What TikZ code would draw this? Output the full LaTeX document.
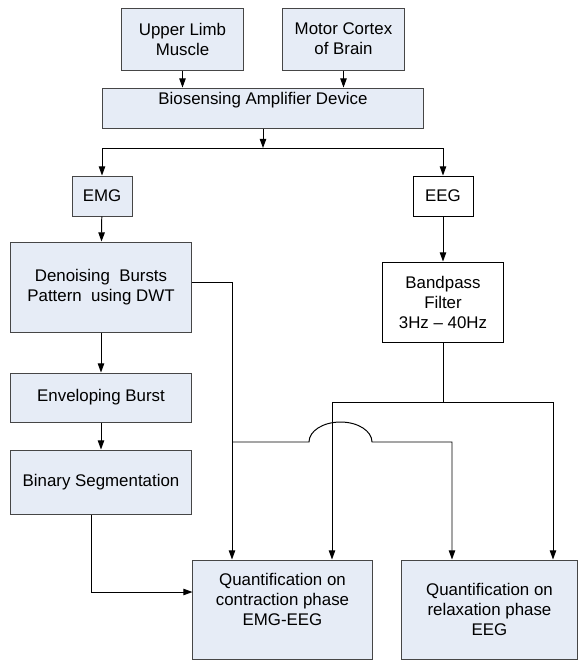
\documentclass[tikz,border=0pt]{standalone}
\usepackage{fontspec}
\setmainfont{Liberation Sans}
\usepackage{tikz}
\usetikzlibrary{calc}
\usetikzlibrary{arrows.meta}
\definecolor{boxfill}{RGB}{230,236,246}
\definecolor{boxline}{RGB}{70,70,70}
\tikzset{
  block/.style={draw=boxline,line width=0.7pt,fill=boxfill,align=center,inner sep=0pt,
    font=\fontsize{12}{14.2}\selectfont},
  plain/.style={block,fill=white,draw=black},
  line/.style={draw=black,line width=0.7pt},
  arr/.style={line,-{Triangle[length=6.5pt,width=4.6pt]}}
}

\begin{document}
\begin{tikzpicture}[x=0.025cm,y=-0.025cm]
\useasboundingbox (0,0) rectangle (578,660);
% sources
\node[block,minimum width=3.025cm,minimum height=1.55cm] (limb) at (182.5,39) {Upper Limb\\Muscle};
\node[block,minimum width=3.025cm,minimum height=1.55cm] (cortex) at (343.5,39) {Motor Cortex\\of Brain};
\node[block,minimum width=8cm,minimum height=1cm] (amp) at (263,108) {Biosensing Amplifier Device\\\mbox{}};
% EMG branch
\node[block,minimum width=1.5cm,minimum height=1cm] (emg) at (102,196) {EMG};
\node[block,minimum width=4.5cm,minimum height=2.25cm] (denoise) at (101,287) {Denoising\ \ Bursts\\Pattern\ \ using DWT};
\node[block,minimum width=4.5cm,minimum height=1.225cm] (envelope) at (101,397.5) {Enveloping Burst};
\node[block,minimum width=4.5cm,minimum height=1.6cm] (binary) at (101,482) {Binary Segmentation};
% EEG branch
\node[plain,minimum width=1.5cm,minimum height=1cm] (eeg) at (443,196) {EEG};
\node[plain,minimum width=3cm,minimum height=2cm] (bandpass) at (443,302) {Bandpass\\Filter\\3Hz -- 40Hz};
% results
\node[block,minimum width=4.475cm,minimum height=2.475cm] (contraction) at (282.5,609.5) {Quantification on\\contraction phase\\EMG-EEG\\\mbox{}};
\node[block,minimum width=4.4cm,minimum height=2.475cm] (relaxation) at (489.5,609.5) {Quantification on\\relaxation phase\\EEG};

\coordinate (ampsplit) at (263,148);
\coordinate (filtsplit) at (443,402);
\coordinate (emgtap) at (232,442);
\coordinate (hop) at (309,442);

\draw[arr] (limb) -- (limb |- amp.north);
\draw[arr] (cortex) -- (cortex |- amp.north);
\draw[arr] (amp) -- (ampsplit);
\draw[arr] (ampsplit) -| (emg);
\draw[arr] (ampsplit) -| (eeg);
\draw[arr] (emg) -- (denoise);
\draw[arr] (denoise) -- (envelope);
\draw[arr] (envelope) -- (binary);
\draw[arr] (eeg) -- (bandpass);
\draw[arr] ($(denoise.east)+(0,-5)$) -| ($(contraction.north)+(-50.5,0)$);
\draw[line] (bandpass) -- (filtsplit);
\draw[arr] (filtsplit) -| ($(contraction.north)+(49.5,0)$);
\draw[arr] (filtsplit) -| ($(relaxation.north)+(63.5,0)$);
\draw[arr] (emgtap) -- (hop) arc[start angle=180,end angle=360,x radius=31.5,y radius=20] -| ($(relaxation.north)+(-37.5,0)$);
\draw[arr] ($(binary.south)+(-10,0)$) |- ($(contraction.west)+(0,-17.5)$);
\end{tikzpicture}
\end{document}
